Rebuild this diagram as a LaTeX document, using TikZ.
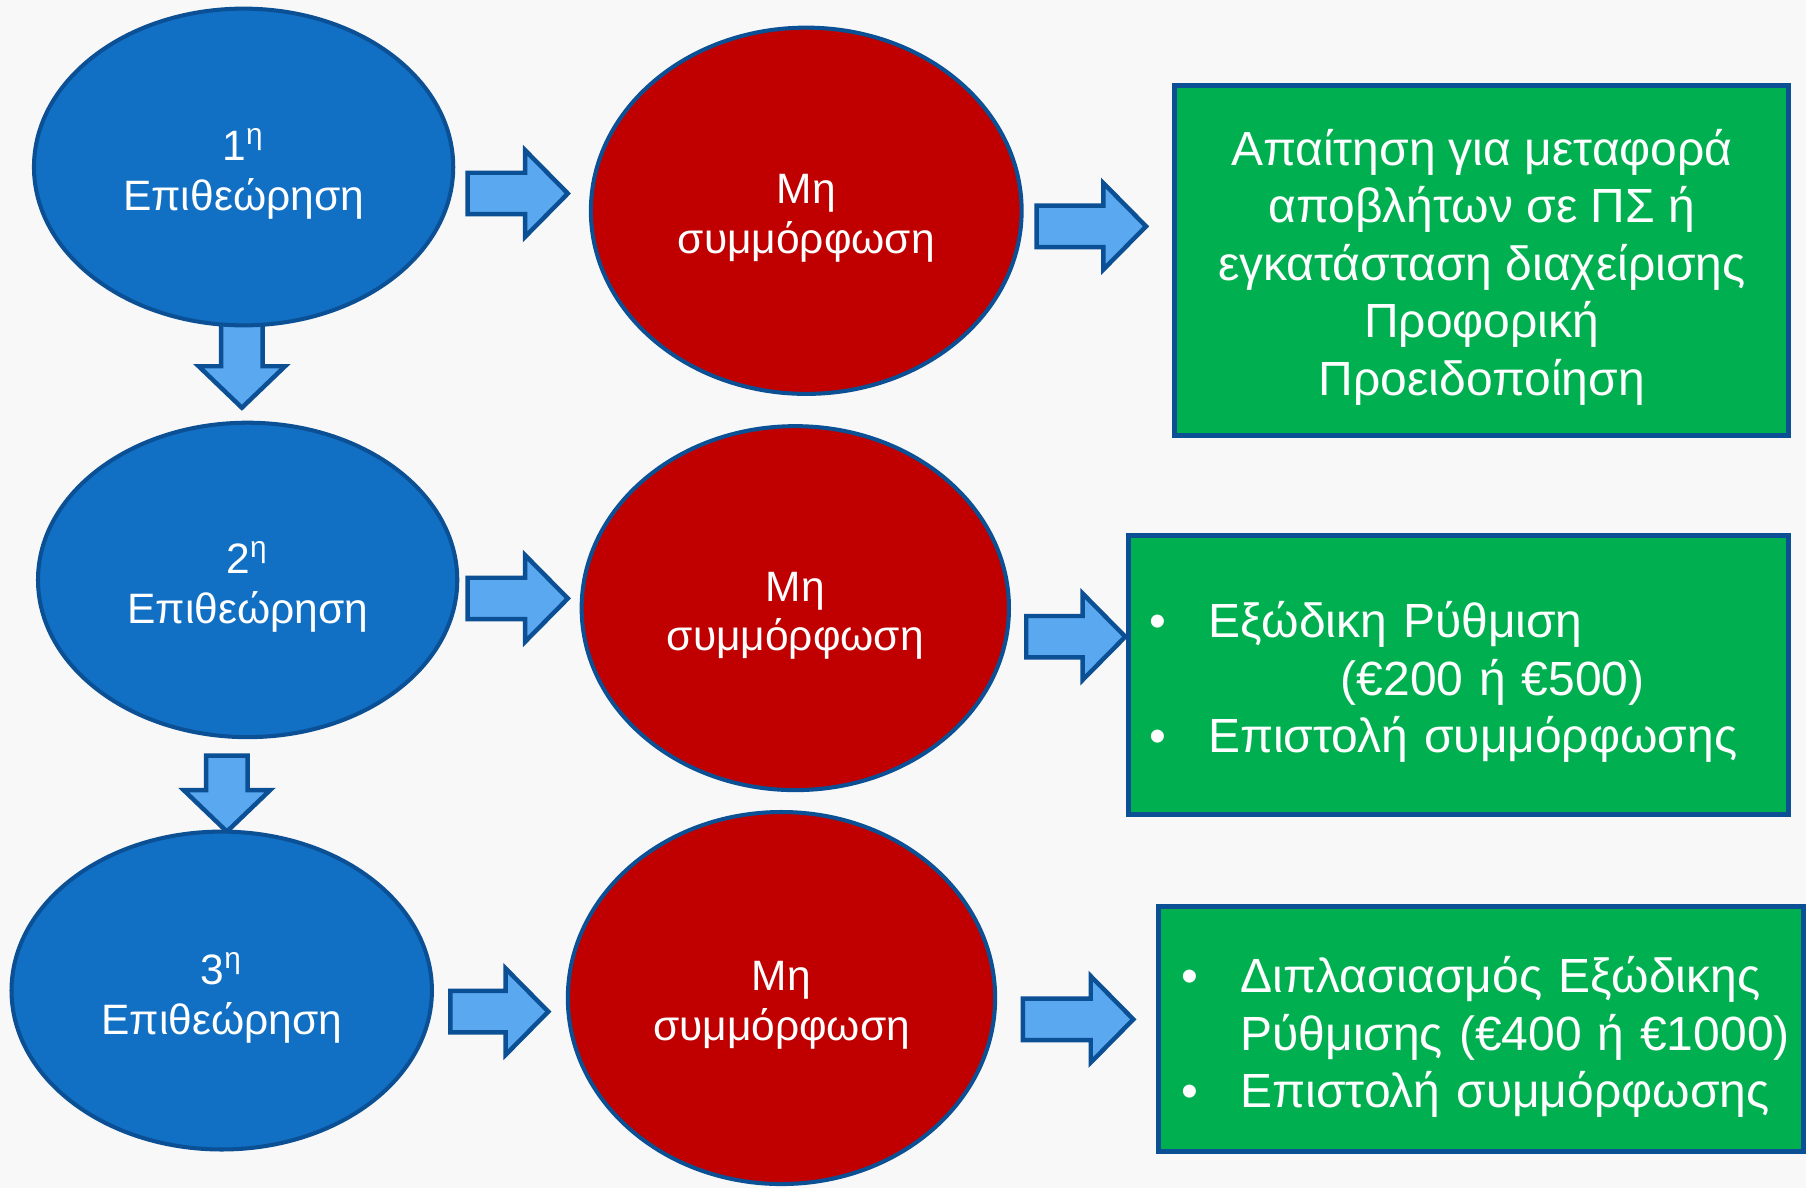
\documentclass[tikz,border=0pt]{standalone}
\usepackage{fontspec}
\setmainfont{Liberation Sans}
\usetikzlibrary{shapes.geometric}

\definecolor{stageblue}{RGB}{17,112,196}
\definecolor{edgeblue}{RGB}{11,80,148}
\definecolor{failred}{RGB}{192,0,0}
\definecolor{actgreen}{RGB}{0,176,80}
\definecolor{arrowblue}{RGB}{90,168,240}
\definecolor{paper}{RGB}{248,248,248}

\newcommand{\stagefont}{\fontsize{10.5}{12.3}\selectfont}
\newcommand{\actfont}{\fontsize{11.85}{14.2}\selectfont}
\newcommand{\bulletmark}{\makebox[0.51cm][l]{•}}
\newcommand{\bulletskip}{\hspace*{0.51cm}}
\newcommand{\topgap}[1]{\rule{0pt}{#1}}

% block arrows: start x, tip x, centre y  /  centre x, start y, tip y
\newcommand{\rightblock}[3]{%
  \draw[blockarrow] (#1,#3-0.18) -- (#2-0.37,#3-0.18) -- (#2-0.37,#3-0.375) -- (#2,#3)
    -- (#2-0.37,#3+0.375) -- (#2-0.37,#3+0.18) -- (#1,#3+0.18) -- cycle;}
\newcommand{\downblock}[3]{%
  \draw[blockarrow] (#1-0.18,#2) -- (#1+0.18,#2) -- (#1+0.18,#3-0.36) -- (#1+0.375,#3-0.36)
    -- (#1,#3) -- (#1-0.375,#3-0.36) -- (#1-0.18,#3-0.36) -- cycle;}

\tikzset{
  stage/.style={ellipse,draw=edgeblue,line width=1pt,fill=stageblue,text=white,
    font=\stagefont,align=center,inner sep=0pt},
  fail/.style={stage,fill=failred},
  action/.style={rectangle,draw=edgeblue,line width=1.3pt,fill=actgreen,text=white,
    font=\actfont,inner sep=0pt},
  blockarrow/.style={draw=edgeblue,line width=1.1pt,fill=arrowblue,line join=miter},
}

\begin{document}
\begin{tikzpicture}[x=1cm,y=-1cm]
  \fill[paper] (0,0) rectangle (15.68,10.31);
  \useasboundingbox (0,0) rectangle (15.68,10.31);

  % downward arrows sit under the ellipses
  \downblock{2.10}{2.70}{3.54}
  \downblock{1.97}{6.56}{7.22}

  % inspections
  \node[stage,minimum width=3.64cm,minimum height=2.75cm] (b1) at (2.115,1.45) {\topgap{11.4pt}1\textsuperscript{η}\\Επιθεώρηση};
  \node[stage,minimum width=3.64cm,minimum height=2.73cm] (b2) at (2.15,5.035) {\topgap{11.4pt}2\textsuperscript{η}\\Επιθεώρηση};
  \node[stage,minimum width=3.65cm,minimum height=2.76cm] (b3) at (1.925,8.60) {\topgap{11.4pt}3\textsuperscript{η}\\Επιθεώρηση};

  % non-compliance
  \node[fail,minimum width=3.74cm,minimum height=3.18cm] (r1) at (7.00,1.83) {\topgap{11pt}Μη\\συμμόρφωση};
  \node[fail,minimum width=3.71cm,minimum height=3.16cm] (r2) at (6.905,5.28) {\topgap{11pt}Μη\\συμμόρφωση};
  \node[fail,minimum width=3.71cm,minimum height=3.23cm] (r3) at (6.785,8.665) {\topgap{11pt}Μη\\συμμόρφωση};

  % measures
  \node[action,minimum width=5.33cm,minimum height=3.04cm,align=center] (g1) at (12.865,2.26)
    {\topgap{12.4pt}Απαίτηση για μεταφορά\\αποβλήτων σε ΠΣ ή\\εγκατάσταση διαχείρισης\\Προφορική\\Προειδοποίηση};
  \node[action,minimum height=2.42cm,inner xsep=0.18cm,text width=5.37cm,align=left] (g2) at (12.665,5.86)
    {\topgap{12.4pt}\bulletmark Εξώδικη Ρύθμιση\\\bulletskip\hspace*{1.15cm}(€200 ή €500)\\\bulletmark Επιστολή συμμόρφωσης};
  \node[action,minimum height=2.13cm,inner xsep=0.2cm,text width=5.20cm,align=left] (g3) at (12.86,8.935)
    {\topgap{12.8pt}\bulletmark Διπλασιασμός Εξώδικης\\\bulletskip\mbox{Ρύθμισης (€400 ή €1000)}\hfill\\\bulletmark Επιστολή συμμόρφωσης};

  % rightward arrows
  \rightblock{4.06}{4.93}{1.68}
  \rightblock{9.00}{9.95}{1.965}
  \rightblock{4.06}{4.93}{5.196}
  \rightblock{8.91}{9.77}{5.528}
  \rightblock{3.91}{4.76}{8.783}
  \rightblock{8.88}{9.84}{8.85}
\end{tikzpicture}
\end{document}
